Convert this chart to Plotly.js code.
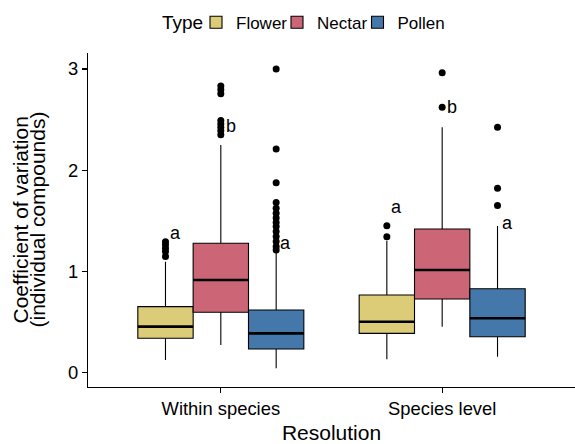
<!DOCTYPE html>
<html><head><meta charset="utf-8">
<script src="https://cdn.plot.ly/plotly-3.0.1.min.js"></script>
<style>html,body{margin:0;padding:0;background:#fff}#chart{width:575px;height:444px}</style>
</head><body><div id="chart"></div>
<script>
// ---- data ----
const categories = ['Within species', 'Species level'];
const types = ['Flower', 'Nectar', 'Pollen'];
const legendTitle = 'Type';

const flowerLower  = [0.124, 0.130];
const flowerQ1     = [0.338, 0.387];
const flowerMedian = [0.453, 0.502];
const flowerQ3     = [0.651, 0.766];
const flowerUpper  = [1.095, 1.303];
const flowerOutWithin  = [1.293, 1.262, 1.228, 1.196, 1.147];
const flowerOutSpecies = [1.451, 1.343];

const nectarLower  = [0.272, 0.453];
const nectarQ1     = [0.595, 0.727];
const nectarMedian = [0.914, 1.013];
const nectarQ3     = [1.277, 1.418];
const nectarUpper  = [2.249, 2.424];
const nectarOutWithin  = [2.833, 2.794, 2.754, 2.490, 2.457, 2.425, 2.390, 2.350];
const nectarOutSpecies = [2.963, 2.621];

const pollenLower  = [0.041, 0.156];
const pollenQ1     = [0.232, 0.354];
const pollenMedian = [0.387, 0.536];
const pollenQ3     = [0.618, 0.828];
const pollenUpper  = [1.194, 1.448];
const pollenOutWithin  = [3.000, 2.210, 1.876, 1.680, 1.624, 1.575, 1.526, 1.482, 1.443, 1.393, 1.344, 1.294, 1.245, 1.212];
const pollenOutSpecies = [2.424, 1.820, 1.650];

const flowerLetters = ['a', 'a'];
const nectarLetters = ['b', 'b'];
const pollenLetters = ['a', 'a'];
const flowerLetterY = [1.382, 1.639];
const nectarLetterY = [2.436, 2.621];
const pollenLetterY = [1.277, 1.481];

// ---- styles ----
const colors = ['#DDCC77', '#CC6677', '#4477AA'];
const BOX_W = 0.25;
const LETTER_DX = 0.044;
const FONT = '"Liberation Sans", Arial, Helvetica, sans-serif';
const legendIds = ['legend', 'legend2', 'legend3'];
const legendLeftPx = [196, 277, 357.5];

const lowerAll  = [flowerLower, nectarLower, pollenLower];
const q1All     = [flowerQ1, nectarQ1, pollenQ1];
const medAll    = [flowerMedian, nectarMedian, pollenMedian];
const q3All     = [flowerQ3, nectarQ3, pollenQ3];
const upperAll  = [flowerUpper, nectarUpper, pollenUpper];
const outAll    = [[flowerOutWithin, flowerOutSpecies], [nectarOutWithin, nectarOutSpecies], [pollenOutWithin, pollenOutSpecies]];
const lettersAll = [flowerLetters, nectarLetters, pollenLetters];
const letterYAll = [flowerLetterY, nectarLetterY, pollenLetterY];

function pos(ci, ti) { return ci + 1 + (ti - 1) * BOX_W; }

const traces = [];
const medTraces = [];
const outTraces = [];
const annotations = [];

types.forEach((t, ti) => {
  const xs = categories.map((c, ci) => pos(ci, ti));
  traces.push({
    type: 'box', name: t, legendgroup: t, legend: legendIds[ti],
    x: xs,
    q1: q1All[ti], median: medAll[ti], q3: q3All[ti],
    lowerfence: lowerAll[ti], upperfence: upperAll[ti],
    width: BOX_W, boxpoints: false,
    fillcolor: colors[ti],
    line: { color: '#000', width: 1.1 },
    whiskerwidth: 0,
    hoverinfo: 'skip'
  });
  medTraces.push({
    type: 'box', name: t + ' median', legendgroup: t, showlegend: false,
    x: xs,
    q1: medAll[ti], median: medAll[ti], q3: medAll[ti],
    lowerfence: medAll[ti], upperfence: medAll[ti],
    width: BOX_W, boxpoints: false,
    fillcolor: 'rgba(0,0,0,0)',
    line: { color: '#000', width: 2.6 },
    hoverinfo: 'skip'
  });
  const ox = [], oy = [];
  outAll[ti].forEach((vals, ci) => {
    vals.forEach(v => { ox.push(pos(ci, ti)); oy.push(v); });
  });
  outTraces.push({
    type: 'scatter', mode: 'markers', name: t + ' outliers', legendgroup: t, showlegend: false,
    x: ox, y: oy,
    marker: { color: '#000', size: 7 },
    hoverinfo: 'skip'
  });
  categories.forEach((c, ci) => {
    annotations.push({
      x: pos(ci, ti) + LETTER_DX, y: letterYAll[ti][ci], xref: 'x', yref: 'y',
      text: lettersAll[ti][ci], showarrow: false, xanchor: 'center', yanchor: 'middle',
      font: { size: 18, color: '#000', family: FONT }
    });
  });
});

annotations.push({
  xref: 'paper', yref: 'paper', x: 0, y: 0.5, xshift: -68.5, xanchor: 'center', yanchor: 'middle',
  text: 'Coefficient of variation', textangle: -90, showarrow: false,
  font: { size: 21, color: '#000', family: FONT }
});
annotations.push({
  xref: 'paper', yref: 'paper', x: 0, y: 0.5, xshift: -51.5, xanchor: 'center', yanchor: 'middle',
  text: '(individual compounds)', textangle: -90, showarrow: false,
  font: { size: 21, color: '#000', family: FONT }
});
annotations.push({
  xref: 'paper', yref: 'paper', x: 0, y: 1, xshift: 160 - 88, yshift: 53 - 22.7, xanchor: 'left', yanchor: 'middle',
  text: legendTitle, showarrow: false,
  font: { size: 19, color: '#000', family: FONT }
});

const axisCommon = {
  showline: true, linecolor: '#000', linewidth: 1.1,
  ticks: 'outside', ticklen: 5, tickwidth: 1.1, tickcolor: '#000',
  showgrid: false, zeroline: false, automargin: false, fixedrange: true,
  tickfont: { size: 18.4, color: '#000', family: FONT }
};

function legendAt(px) {
  return {
    orientation: 'h', xref: 'container', yref: 'container',
    x: px / 575, xanchor: 'left', y: 1 - 22.7 / 444, yanchor: 'middle',
    font: { size: 17, color: '#000', family: FONT },
    itemwidth: 30, bgcolor: 'rgba(0,0,0,0)', borderwidth: 0
  };
}

const layout = {
  width: 575, height: 444,
  margin: { l: 88, r: 0, t: 53, b: 57, pad: 0 },
  paper_bgcolor: '#fff', plot_bgcolor: '#fff',
  font: { family: FONT, color: '#000', size: 18 },
  boxmode: 'overlay',
  showlegend: true,
  legend: legendAt(legendLeftPx[0]),
  legend2: legendAt(legendLeftPx[1]),
  legend3: legendAt(legendLeftPx[2]),
  xaxis: Object.assign({}, axisCommon, {
    range: [0.4, 2.6], tickmode: 'array', tickvals: [1, 2], ticktext: categories,
    title: { text: 'Resolution', font: { size: 21, color: '#000', family: FONT }, standoff: 11 }
  }),
  yaxis: Object.assign({}, axisCommon, {
    range: [-0.1433, 3.158], tickmode: 'array', tickvals: [0, 1, 2, 3], ticktext: ['0', '1', '2', '3']
  }),
  annotations: annotations
};

Plotly.newPlot('chart', traces.concat(medTraces, outTraces), layout, { displayModeBar: false, staticPlot: true });
</script>
</body></html>
